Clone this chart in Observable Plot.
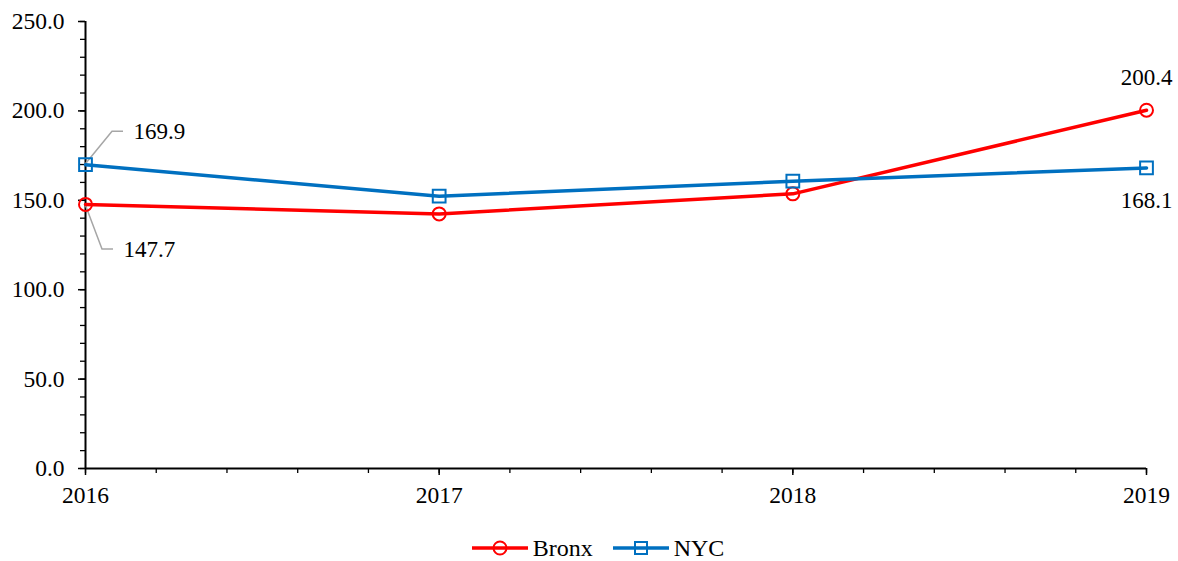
<!DOCTYPE html>
<html><head><meta charset="utf-8">
<script src="https://cdn.jsdelivr.net/npm/d3@7"></script>
<script src="https://cdn.jsdelivr.net/npm/@observablehq/plot@0.6"></script>
<style>
body{margin:0;background:#fff;font-family:"Liberation Serif","Times New Roman",serif}
#chart svg{display:block}
#legend{display:flex;justify-content:center;align-items:center;height:26px;margin-top:25px;padding-left:38px;font-size:24px;color:#000}
#legend .item{display:flex;align-items:center;margin-right:20px}
#legend .item svg{margin-right:5px}
</style>
</head><body>
<div id="chart"></div>
<div id="legend"></div>
<script>
const years = [2016, 2017, 2018, 2019];
const bronx = [147.7, 142.4, 153.6, 200.4];
const nyc = [169.9, 152.3, 160.7, 168.1];
const seriesNames = ["Bronx", "NYC"];
const seriesColors = ["#FF0000", "#0070C0"];
const seriesSymbols = ["circle", "square"];
const yMajorTicks = [0, 50, 100, 150, 200, 250];
const yMinorTicks = d3.range(0, 251, 10);
const xMajorTicks = years;
const xMinorTicks = d3.range(2016, 2019.0001, 0.2).map(d => +d.toFixed(1));

const rows = years.flatMap((yr, i) => [
  {year: yr, value: bronx[i], series: "Bronx"},
  {year: yr, value: nyc[i], series: "NYC"}
]);

// data labels: which point, text offset (px), optional leader offsets (px)
const labels = [
  {year: 2016, value: nyc[0], dx: 48, dy: -33, anchor: "start", leader: [[27, -33], [38, -33]]},
  {year: 2016, value: bronx[0], dx: 38, dy: 45, anchor: "start", leader: [[17, 45], [28, 45]]},
  {year: 2019, value: bronx[3], dx: 0, dy: -33, anchor: "middle", leader: null},
  {year: 2019, value: nyc[3], dx: 0, dy: 33, anchor: "middle", leader: null}
];

function leaderMark(index, scales) {
  const g = d3.create("svg:g");
  for (const l of labels) {
    if (!l.leader) continue;
    const x0 = scales.x(l.year), y0 = scales.y(l.value);
    const pts = [[x0, y0], ...l.leader.map(([ox, oy]) => [x0 + ox, y0 + oy])];
    g.append("path")
      .attr("d", d3.line()(pts))
      .attr("fill", "none")
      .attr("stroke", "#A6A6A6")
      .attr("stroke-width", 1.5);
  }
  return g.node();
}

const marks = [
  Plot.axisY({ticks: yMinorTicks, tickFormat: () => "", tickSize: 5, strokeWidth: 1.3, label: null}),
  Plot.axisY({ticks: yMajorTicks, tickFormat: d => d.toFixed(1), tickSize: 7, tickPadding: 14, strokeWidth: 1.5, label: null, fontSize: 23.5}),
  Plot.axisX({ticks: xMinorTicks, tickFormat: () => "", tickSize: 5, strokeWidth: 1.3, label: null}),
  Plot.axisX({ticks: xMajorTicks, tickFormat: d => String(d), tickSize: 7, tickPadding: 11, strokeWidth: 1.5, label: null, fontSize: 23.5}),
  Plot.ruleY([0], {stroke: "black", strokeWidth: 2}),
  Plot.ruleX([2016], {stroke: "black", strokeWidth: 2}),
  leaderMark
];
seriesNames.forEach((name, i) => {
  const data = rows.filter(r => r.series === name);
  marks.push(Plot.line(data, {x: "year", y: "value", stroke: seriesColors[i], strokeWidth: 3.5}));
  marks.push(Plot.dot(data, {x: "year", y: "value", stroke: seriesColors[i], fill: "none", strokeWidth: 2,
    symbol: () => seriesSymbols[i], r: seriesSymbols[i] === "square" ? 7.2 : 6.5}));
});
labels.forEach(l => {
  marks.push(Plot.text([l], {x: "year", y: "value", text: d => d.value.toFixed(1), dx: l.dx, dy: l.dy,
    textAnchor: l.anchor, fontSize: 23, fill: "black"}));
});

const chart = Plot.plot({
  width: 1178,
  height: 510,
  marginLeft: 85,
  marginRight: 32,
  marginTop: 21,
  marginBottom: 42,
  style: {fontFamily: "'Liberation Serif', 'Times New Roman', serif", fontSize: "23.5px", color: "black", background: "white"},
  x: {domain: [2016, 2019], label: null},
  y: {domain: [0, 250], label: null},
  symbol: {domain: seriesSymbols, range: seriesSymbols},
  marks
});
document.getElementById("chart").append(chart);

const legend = document.getElementById("legend");
seriesNames.forEach((name, i) => {
  const item = document.createElement("div");
  item.className = "item";
  const s = d3.create("svg").attr("width", 56).attr("height", 20);
  s.append("line").attr("x1", 0).attr("x2", 56).attr("y1", 10).attr("y2", 10)
    .attr("stroke", seriesColors[i]).attr("stroke-width", 3.5);
  if (seriesSymbols[i] === "circle") {
    s.append("circle").attr("cx", 28).attr("cy", 10).attr("r", 6.5)
      .attr("fill", "none").attr("stroke", seriesColors[i]).attr("stroke-width", 2);
  } else {
    s.append("rect").attr("x", 22).attr("y", 4).attr("width", 12).attr("height", 12)
      .attr("fill", "none").attr("stroke", seriesColors[i]).attr("stroke-width", 2);
  }
  item.append(s.node());
  const t = document.createElement("span");
  t.textContent = name;
  item.append(t);
  legend.append(item);
});
</script>
</body></html>
